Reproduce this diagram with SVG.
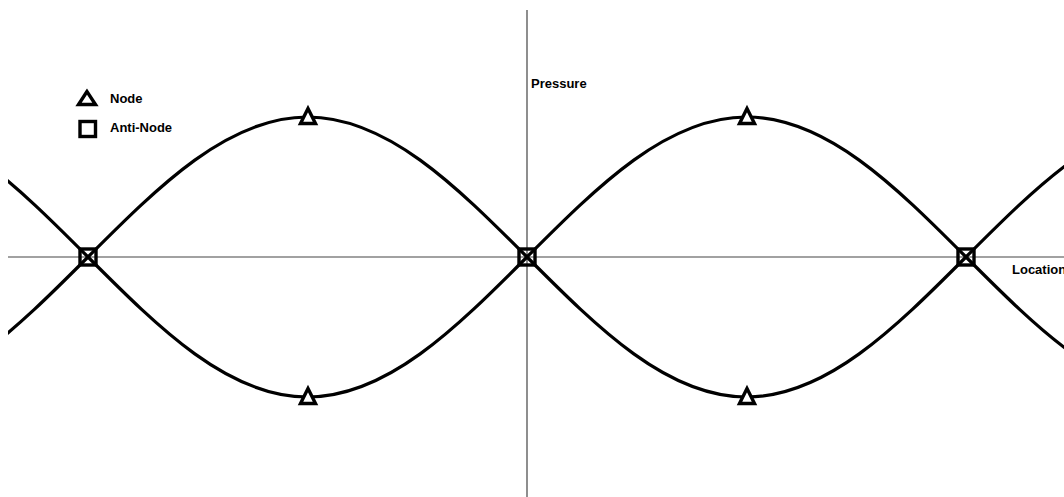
<svg xmlns="http://www.w3.org/2000/svg" width="1064" height="497" viewBox="0 0 1064 497">
<style>
.axis{stroke:#444;stroke-width:1.2;fill:none}
.wave{stroke:#000;stroke-width:3.2;fill:none}
.mark{stroke:#000;stroke-width:3.4;fill:none}
.tri{stroke:#000;stroke-width:3.4;fill:#fff}
.lbl{font-family:"Liberation Sans",Arial,sans-serif;font-weight:bold;font-size:13px;fill:#000}
</style>
<defs>
<clipPath id="clip"><rect x="8" y="0" width="1056" height="497"/></clipPath>
<polygon id="triMark" points="0,-8 -7.5,7 7.5,7" class="tri"/>
<rect id="sqMark" x="-8" y="-8" width="16" height="16" class="mark"/>
</defs>
<rect width="1064" height="497" fill="#fff"/>
<g id="axes">
<line class="axis" x1="527" y1="10" x2="527" y2="497"/>
<line class="axis" x1="8" y1="257" x2="1064" y2="257"/>
<text class="lbl" x="531" y="88">Pressure</text>
<text class="lbl" x="1012" y="274">Location</text>
</g>
<g id="connectors" clip-path="url(#clip)">
<path class="wave" d="M-131.5,397 C-52.1,397 16.4,328.7 88,257 C159.6,185.3 228.1,117 307.5,117 C386.9,117 455.4,185.3 527,257 C598.6,328.7 667.1,397 746.5,397 C825.9,397 894.4,328.7 966,257 C1037.6,185.3 1106.1,117 1185.5,117"/>
<path class="wave" d="M-131.5,117 C-52.1,117 16.4,185.3 88,257 C159.6,328.7 228.1,397 307.5,397 C386.9,397 455.4,328.7 527,257 C598.6,185.3 667.1,117 746.5,117 C825.9,117 894.4,185.3 966,257 C1037.6,328.7 1106.1,397 1185.5,397"/>
</g>
<g id="node-top-1"><use href="#triMark" x="308" y="116.5"/></g>
<g id="node-bottom-1"><use href="#triMark" x="308" y="396.5"/></g>
<g id="node-top-2"><use href="#triMark" x="747" y="116.5"/></g>
<g id="node-bottom-2"><use href="#triMark" x="747" y="396.5"/></g>
<g id="antinode-1"><use href="#sqMark" x="88" y="257"/></g>
<g id="antinode-2"><use href="#sqMark" x="527" y="257"/></g>
<g id="antinode-3"><use href="#sqMark" x="966" y="257"/></g>
<g id="legend">
<polygon class="tri" points="87,91.5 78.5,104.5 95.5,104.5"/>
<text class="lbl" x="110" y="103">Node</text>
<rect class="mark" x="80" y="121.5" width="15.5" height="15"/>
<text class="lbl" x="110" y="132">Anti-Node</text>
</g>
</svg>
